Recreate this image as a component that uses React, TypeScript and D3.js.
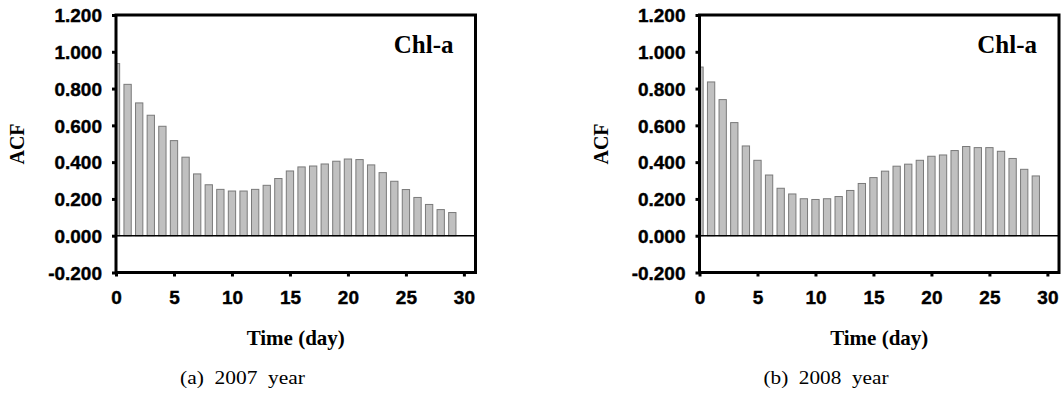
import { useEffect, useRef } from "react";
import * as d3 from "d3";

const lags = d3.range(0, 30);
const acf2007 = [
  0.936, 0.823, 0.722, 0.655, 0.595, 0.517, 0.427, 0.336, 0.277, 0.252,
  0.243, 0.243, 0.252, 0.274, 0.311, 0.352, 0.374, 0.379, 0.39, 0.405,
  0.417, 0.414, 0.385, 0.343, 0.296, 0.251, 0.208, 0.17, 0.142, 0.126,
];
const acf2008 = [
  0.917, 0.836, 0.74, 0.615, 0.488, 0.41, 0.33, 0.258, 0.227, 0.201,
  0.197, 0.201, 0.213, 0.246, 0.284, 0.316, 0.351, 0.378, 0.389, 0.41,
  0.432, 0.439, 0.463, 0.485, 0.479, 0.479, 0.459, 0.42, 0.361, 0.325,
];
const yTicks = [-0.2, 0, 0.2, 0.4, 0.6, 0.8, 1.0, 1.2];
const xTicks = [0, 5, 10, 15, 20, 25, 30];
const captions = ["(a)  2007  year", "(b)  2008  year"];

const W = 1064;
const H = 396;
const sans = "'Liberation Sans', Arial, sans-serif";
const serif = "'Liberation Serif', 'Times New Roman', serif";

function drawPanel(g, values, caption, id) {
  const left = 116;
  const right = 475.5;
  const top = 15;
  const bottom = 272.5;

  const x = d3.scaleLinear().domain([0, 31]).range([left, right]);
  const y = d3.scaleLinear().domain([-0.2, 1.2]).range([bottom, top]);
  const barW = (x(1) - x(0)) * 0.63;

  g.append("clipPath")
    .attr("id", id)
    .append("rect")
    .attr("x", left)
    .attr("y", top)
    .attr("width", right - left)
    .attr("height", bottom - top);

  g.append("g")
    .attr("clip-path", `url(#${id})`)
    .selectAll("rect")
    .data(lags)
    .join("rect")
    .attr("x", (d) => x(d) - barW / 2)
    .attr("y", (d) => y(values[d]))
    .attr("width", barW)
    .attr("height", (d) => y(0) - y(values[d]))
    .attr("fill", "#c0c0c0")
    .attr("stroke", "#7a7a7a")
    .attr("stroke-width", 1);

  // zero line
  g.append("line")
    .attr("x1", left)
    .attr("x2", right)
    .attr("y1", y(0))
    .attr("y2", y(0))
    .attr("stroke", "#000")
    .attr("stroke-width", 1.5);

  // frame
  g.append("rect")
    .attr("x", left)
    .attr("y", top)
    .attr("width", right - left)
    .attr("height", bottom - top)
    .attr("fill", "none")
    .attr("stroke", "#000")
    .attr("stroke-width", 3);

  const yAxis = d3
    .axisLeft(y)
    .tickValues(yTicks)
    .tickSize(4)
    .tickPadding(10)
    .tickFormat((d) => d.toFixed(3));
  const ya = g.append("g").attr("transform", `translate(${left},0)`).call(yAxis);
  ya.select(".domain").remove();
  ya.selectAll("line").attr("stroke", "#000").attr("stroke-width", 3);
  ya.selectAll("text")
    .attr("font-family", sans)
    .attr("font-weight", "bold")
    .attr("font-size", 19)
    .attr("dy", "0.36em")
    .attr("fill", "#000")
    .attr("stroke", "#000")
    .attr("stroke-width", 0.4);

  const xAxis = d3.axisBottom(x).tickValues(xTicks).tickSize(4).tickPadding(14);
  const xa = g.append("g").attr("transform", `translate(0,${bottom})`).call(xAxis);
  xa.select(".domain").remove();
  xa.selectAll("line").attr("stroke", "#000").attr("stroke-width", 3);
  xa.selectAll("text")
    .attr("font-family", sans)
    .attr("font-weight", "bold")
    .attr("font-size", 19)
    .attr("fill", "#000")
    .attr("stroke", "#000")
    .attr("stroke-width", 0.4);

  g.append("text")
    .attr("transform", `translate(24,144) rotate(-90)`)
    .attr("text-anchor", "middle")
    .attr("font-family", serif)
    .attr("font-weight", "bold")
    .attr("font-size", 20)
    .text("ACF");

  g.append("text")
    .attr("x", right - 22)
    .attr("y", 53)
    .attr("text-anchor", "end")
    .attr("font-family", serif)
    .attr("font-weight", "bold")
    .attr("font-size", 25)
    .text("Chl-a");

  g.append("text")
    .attr("x", (left + right) / 2)
    .attr("y", 345)
    .attr("text-anchor", "middle")
    .attr("font-family", serif)
    .attr("font-weight", "bold")
    .attr("font-size", 21)
    .text("Time (day)");

  g.append("text")
    .attr("x", 242.5)
    .attr("y", 384)
    .attr("text-anchor", "middle")
    .attr("font-family", serif)
    .attr("font-size", 19)
    .attr("textLength", 125)
    .attr("lengthAdjust", "spacingAndGlyphs")
    .style("white-space", "pre")
    .text(caption);
}

export default function App() {
  const ref = useRef(null);

  useEffect(() => {
    const svg = d3.select(ref.current);
    svg.selectAll("*").remove();
    svg.append("rect").attr("width", W).attr("height", H).attr("fill", "#fff");

    drawPanel(svg.append("g"), acf2007, captions[0], "clipA");
    drawPanel(
      svg.append("g").attr("transform", "translate(583.5,0)"),
      acf2008,
      captions[1],
      "clipB"
    );
  }, []);

  return (
    <svg
      ref={ref}
      width={W}
      height={H}
      style={{ position: "absolute", left: 0, top: 0, display: "block" }}
    />
  );
}
